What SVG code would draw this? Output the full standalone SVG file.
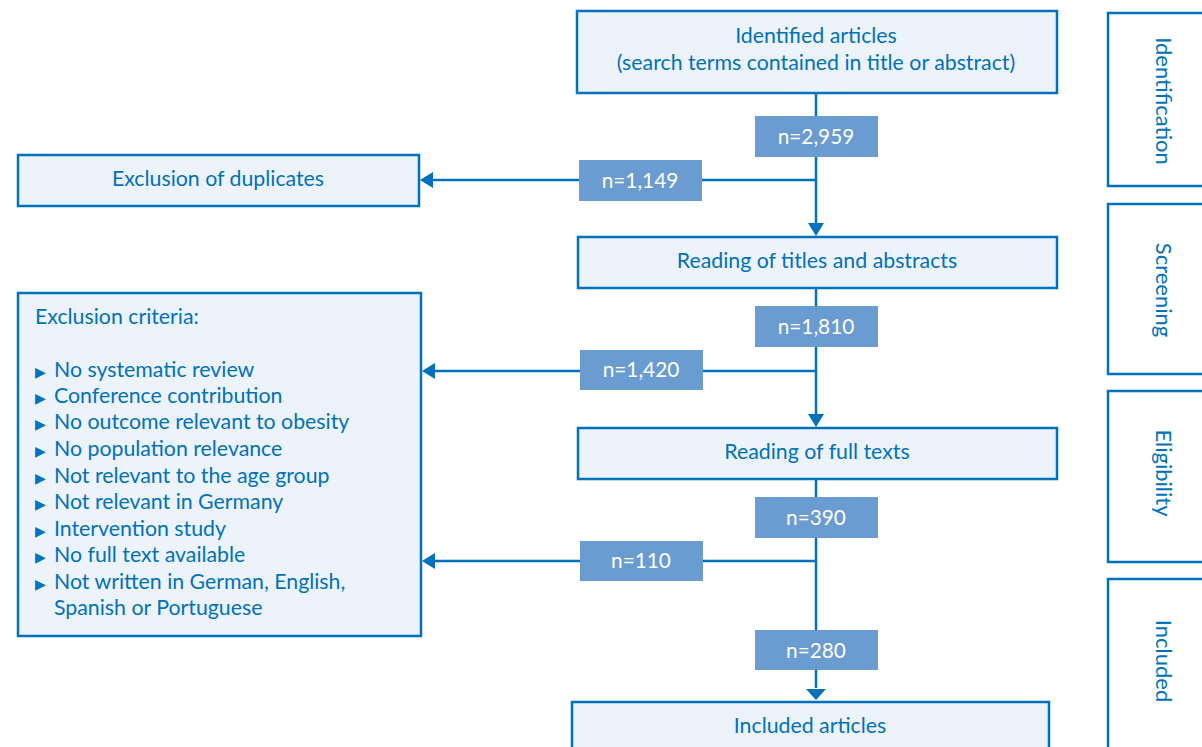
<svg xmlns="http://www.w3.org/2000/svg" width="1202" height="747" viewBox="0 0 1202 747">
<defs>
<style>
.box{fill:#edf3fa;stroke:#0071bb;stroke-width:2.5}
.stage{fill:#ffffff;stroke:#0071bb;stroke-width:2.5}
.lbl{fill:#6a9bd1}
.t{font-family:Lato,"Open Sans",sans-serif;font-size:21.3px;fill:#0071bb}
.c{text-anchor:middle}
.s{font-size:22px}
.w{font-family:Lato,"Open Sans",sans-serif;font-size:20.8px;fill:#ffffff;text-anchor:middle}
.ln{stroke:#0071bb;stroke-width:2.5;fill:none}
.ah{fill:#0071bb}
</style>
</defs>
<rect width="1202" height="747" fill="#ffffff"/>
<g id="connectors">
<line class="ln" x1="816" y1="93" x2="816" y2="224"/>
<line class="ln" x1="816" y1="180" x2="432" y2="180"/>
<polygon class="ah" points="808,223 824,223 816,236"/>
<polygon class="ah" points="433,172 433,188 420,180"/>
<line class="ln" x1="816" y1="288" x2="816" y2="415"/>
<line class="ln" x1="816" y1="371" x2="434" y2="371"/>
<polygon class="ah" points="808,414 824,414 816,427"/>
<polygon class="ah" points="435,363 435,379 422,371"/>
<line class="ln" x1="816" y1="479" x2="816" y2="688"/>
<line class="ln" x1="816" y1="561" x2="434" y2="561"/>
<polygon class="ah" points="806,689 826,689 816,700"/>
<polygon class="ah" points="435,553 435,569 422,561"/>
</g>
<g id="n-identified">
<rect class="box" x="577" y="11" width="480" height="82"/>
<text class="t c" x="816" y="43">Identified articles</text>
<text class="t c" x="816" y="70">(search terms contained in title or abstract)</text>
</g>
<g id="l-2959"><rect class="lbl" x="755" y="116" width="123" height="41"/><text class="w" x="816" y="144">n=2,959</text></g>
<g id="l-1149"><rect class="lbl" x="579" y="160" width="123" height="41"/><text class="w" x="640" y="188">n=1,149</text></g>
<g id="n-duplicates">
<rect class="box" x="18" y="155" width="401" height="51"/>
<text class="t c" x="218" y="186">Exclusion of duplicates</text>
</g>
<g id="n-titles">
<rect class="box" x="578" y="237" width="479" height="51"/>
<text class="t c" x="817" y="268">Reading of titles and abstracts</text>
</g>
<g id="l-1810"><rect class="lbl" x="755" y="306" width="123" height="41"/><text class="w" x="816" y="334">n=1,810</text></g>
<g id="l-1420"><rect class="lbl" x="580" y="350" width="123" height="40"/><text class="w" x="641" y="377">n=1,420</text></g>
<g id="n-criteria">
<rect class="box" x="18" y="293" width="403" height="343"/>
<text class="t" x="35" y="324">Exclusion criteria:</text>
<g class="t">
<text x="35" y="377"><tspan font-size="14">▶</tspan><tspan x="54">No systematic review</tspan></text>
<text x="35" y="403"><tspan font-size="14">▶</tspan><tspan x="54">Conference contribution</tspan></text>
<text x="35" y="429"><tspan font-size="14">▶</tspan><tspan x="54">No outcome relevant to obesity</tspan></text>
<text x="35" y="456"><tspan font-size="14">▶</tspan><tspan x="54">No population relevance</tspan></text>
<text x="35" y="483"><tspan font-size="14">▶</tspan><tspan x="54">Not relevant to the age group</tspan></text>
<text x="35" y="509"><tspan font-size="14">▶</tspan><tspan x="54">Not relevant in Germany</tspan></text>
<text x="35" y="536"><tspan font-size="14">▶</tspan><tspan x="54">Intervention study</tspan></text>
<text x="35" y="562"><tspan font-size="14">▶</tspan><tspan x="54">No full text available</tspan></text>
<text x="35" y="589"><tspan font-size="14">▶</tspan><tspan x="54">Not written in German, English,</tspan></text>
<text x="54" y="615">Spanish or Portuguese</text>
</g>
</g>
<g id="n-fulltexts">
<rect class="box" x="578" y="428" width="479" height="51"/>
<text class="t c" x="817" y="459">Reading of full texts</text>
</g>
<g id="l-390"><rect class="lbl" x="755" y="497" width="123" height="41"/><text class="w" x="816" y="525">n=390</text></g>
<g id="l-110"><rect class="lbl" x="580" y="541" width="123" height="40"/><text class="w" x="641" y="568">n=110</text></g>
<g id="l-280"><rect class="lbl" x="755" y="630" width="123" height="40"/><text class="w" x="816" y="658">n=280</text></g>
<g id="n-included">
<rect class="box" x="572" y="702" width="477" height="60"/>
<text class="t c" x="810" y="733">Included articles</text>
</g>
<g id="s-identification">
<rect class="stage" x="1108" y="13" width="110" height="173"/>
<text class="t c s" transform="translate(1156,101) rotate(90)">Identification</text>
</g>
<g id="s-screening">
<rect class="stage" x="1108" y="204" width="110" height="170"/>
<text class="t c s" transform="translate(1156,290) rotate(90)">Screening</text>
</g>
<g id="s-eligibility">
<rect class="stage" x="1108" y="391" width="110" height="171"/>
<text class="t c s" transform="translate(1156,473) rotate(90)">Eligibility</text>
</g>
<g id="s-included">
<rect class="stage" x="1108" y="579" width="110" height="190"/>
<text class="t c s" transform="translate(1156,661) rotate(90)">Included</text>
</g>
</svg>
